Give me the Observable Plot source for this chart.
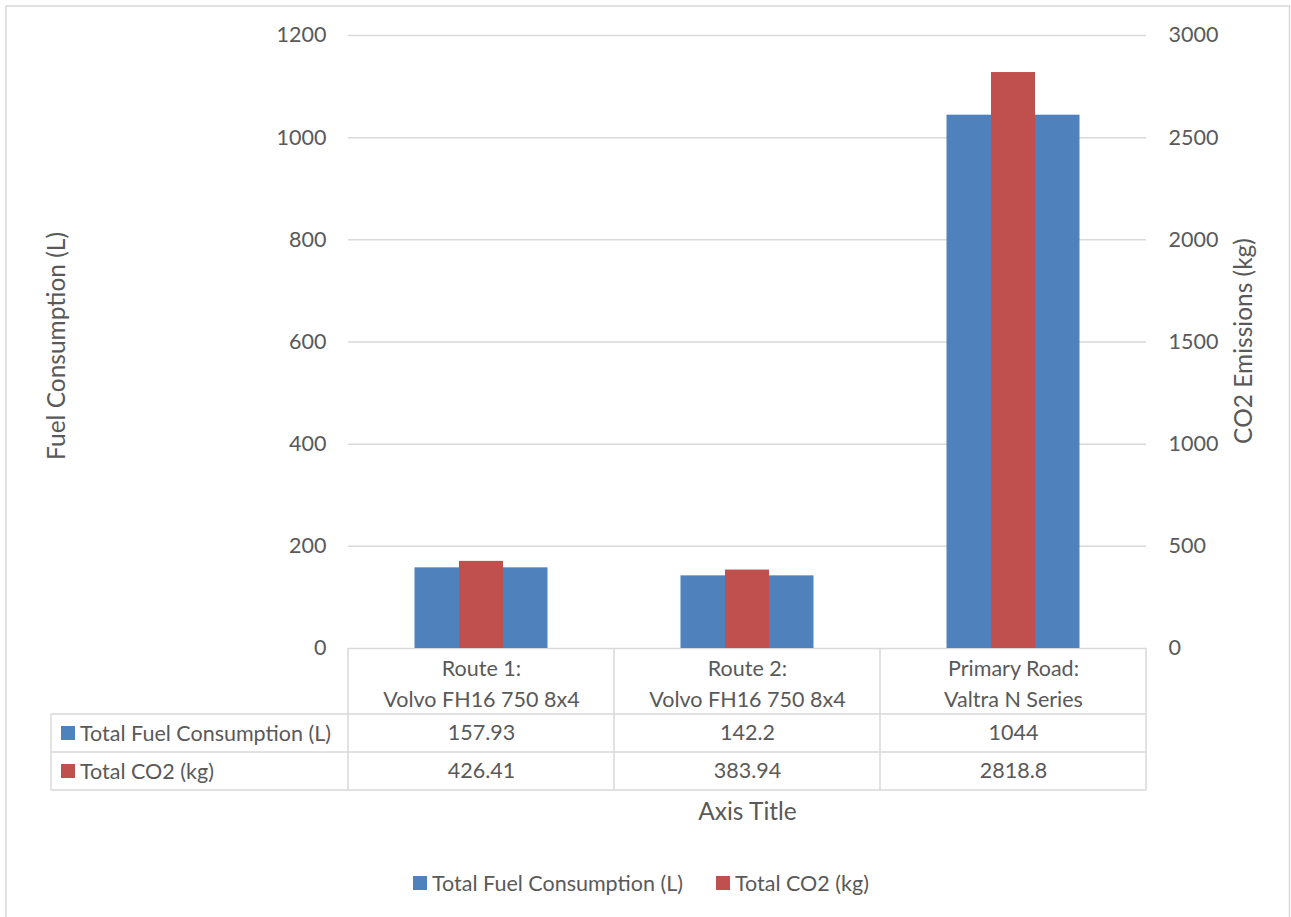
<!DOCTYPE html>
<html><head><meta charset="utf-8">
<script src="https://cdn.jsdelivr.net/npm/d3@7"></script>
<script src="https://cdn.jsdelivr.net/npm/@observablehq/plot@0.6"></script>
<style>
body{margin:0;background:#fff;}
#chart{position:relative;width:1291px;height:917px;overflow:hidden;}
</style></head><body><div id="chart"></div>
<script>
const categories = ["Route 1:\nVolvo FH16 750 8x4", "Route 2:\nVolvo FH16 750 8x4", "Primary Road:\nValtra N Series"];
const fuelValues = [157.93, 142.2, 1044];
const co2Values = [426.41, 383.94, 2818.8];
const fuelLabels = ["157.93", "142.2", "1044"];
const co2Labels = ["426.41", "383.94", "2818.8"];
const seriesNames = ["Total Fuel Consumption (L)", "Total CO2 (kg)"];
const seriesColors = ["#4F81BD", "#C0504D"];
const leftTicks = [0, 200, 400, 600, 800, 1000, 1200];
const rightTicks = [0, 500, 1000, 1500, 2000, 2500, 3000];
const leftMax = 1200, rightMax = 3000;
const ratio = leftMax / rightMax;

const fuelData = categories.map((c, i) => ({category: c, value: fuelValues[i], label: fuelLabels[i]}));
const co2Data = categories.map((c, i) => ({category: c, value: co2Values[i], scaled: co2Values[i] * ratio, label: co2Labels[i]}));

const W = 1291, H = 917;
const font = "Lato, 'Open Sans', sans-serif";
const fs = 21.5;
const tfs = 24.5;
const grey = "#595959";
const lineGrey = "#D9D9D9";

const chart = Plot.plot({
  width: W, height: H,
  marginLeft: 348, marginRight: 145, marginTop: 35, marginBottom: 269,
  style: {fontFamily: font, fontSize: fs + "px", color: grey, background: "transparent", overflow: "visible"},
  x: {domain: categories, padding: 0, axis: null},
  y: {domain: [0, leftMax], axis: null},
  marks: [
    Plot.ruleY(leftTicks, {stroke: lineGrey, strokeWidth: 1.5, strokeOpacity: 1}),
    Plot.barY(fuelData, {x: "category", y: "value", fill: seriesColors[0], insetLeft: 66.5, insetRight: 66.5}),
    Plot.barY(co2Data, {x: "category", y: "scaled", fill: seriesColors[1], insetLeft: 111, insetRight: 111}),
    Plot.axisY(leftTicks, {anchor: "left", tickSize: 0, tickPadding: 22, label: null, fontSize: fs, tickFormat: d => String(d)}),
    Plot.axisY(rightTicks.map(v => v * ratio), {anchor: "right", tickSize: 0, tickPadding: 22, label: null, fontSize: fs, tickFormat: v => String(Math.round(v / ratio))}),
    Plot.text(["Fuel Consumption (L)"], {frameAnchor: "left", dx: -291, dy: 4, rotate: -90, textAnchor: "middle", lineAnchor: "middle", fontSize: tfs, fill: grey}),
    Plot.text(["CO2 Emissions (kg)"], {frameAnchor: "right", dx: 98, dy: -1, rotate: -90, textAnchor: "middle", lineAnchor: "middle", fontSize: tfs, fill: grey}),
    Plot.text(categories, {x: d => d, text: d => d, frameAnchor: "bottom", dy: 33.5, lineAnchor: "middle", lineHeight: 31 / fs, fontSize: fs, fill: grey}),
    Plot.text(fuelData, {x: "category", text: "label", frameAnchor: "bottom", dy: 85, lineAnchor: "middle", fontSize: fs, fill: grey}),
    Plot.text(co2Data, {x: "category", text: "label", frameAnchor: "bottom", dy: 123, lineAnchor: "middle", fontSize: fs, fill: grey}),
    Plot.text(["Axis Title"], {frameAnchor: "bottom", dy: 164, lineAnchor: "middle", fontSize: tfs, fill: grey})
  ]
});

const svg = d3.select(chart);
const xs = chart.scale("x");
const ys = chart.scale("y");
const edges = categories.map(c => xs.apply(c)).concat([xs.apply(categories[categories.length - 1]) + xs.bandwidth]);
const y0 = ys.apply(0);
const rowLines = [y0 + 66, y0 + 104, y0 + 142];
const tableLeft = 51;
const g = svg.append("g").attr("stroke", lineGrey).attr("stroke-width", 1.5).attr("fill", "none");
rowLines.forEach(y => g.append("line").attr("x1", tableLeft).attr("x2", edges[edges.length - 1]).attr("y1", y).attr("y2", y));
edges.forEach(x => g.append("line").attr("x1", x).attr("x2", x).attr("y1", y0).attr("y2", rowLines[2]));
g.append("line").attr("x1", tableLeft).attr("x2", tableLeft).attr("y1", rowLines[0]).attr("y2", rowLines[2]);
// outer chart border (bottom edge falls outside the picture)
svg.append("rect").attr("x", 6).attr("y", 6).attr("width", W - 7.5).attr("height", H + 20)
  .attr("fill", "none").attr("stroke", lineGrey).attr("stroke-width", 1.5);

// row labels in table
const rowMid = [y0 + 85, y0 + 123];
seriesNames.forEach((n, i) => {
  svg.append("rect").attr("x", 61).attr("y", rowMid[i] - 7).attr("width", 14).attr("height", 14).attr("fill", seriesColors[i]);
  svg.append("text").attr("x", 80).attr("y", rowMid[i]).attr("dy", "0.35em").attr("fill", grey)
    .attr("text-anchor", "start").attr("font-family", font).attr("font-size", fs).text(n);
});
// legend
const legendX = [413, 716];
const legendY = 883;
seriesNames.forEach((n, i) => {
  svg.append("rect").attr("x", legendX[i]).attr("y", legendY - 7).attr("width", 14).attr("height", 14).attr("fill", seriesColors[i]);
  svg.append("text").attr("x", legendX[i] + 19).attr("y", legendY).attr("dy", "0.35em").attr("fill", grey)
    .attr("text-anchor", "start").attr("font-family", font).attr("font-size", fs).text(n);
});

document.getElementById("chart").appendChild(chart);
</script></body></html>
